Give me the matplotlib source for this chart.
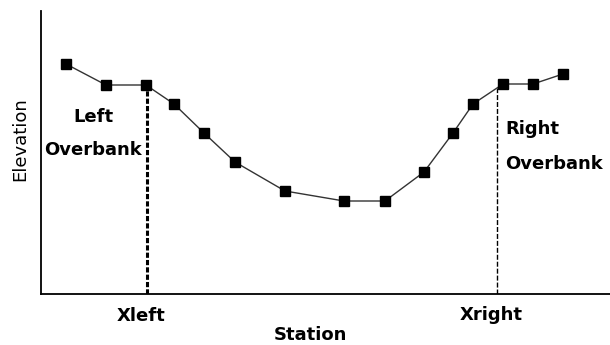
import numpy as np
import matplotlib
matplotlib.use("Agg")
import matplotlib.pyplot as plt

# cross-section survey points (station, elevation), arbitrary units
station = [2.5, 6.5, 10.5, 13.3, 16.3, 19.4, 24.4, 30.3, 34.4, 38.3, 41.2, 43.2, 46.2, 49.2, 52.2]
elevation = [23.0, 20.9, 20.9, 19.0, 16.1, 13.2, 10.3, 9.3, 9.3, 12.2, 16.1, 19.0, 21.0, 21.0, 22.0]

x_left = 10.6
x_right = 45.6

W, H = 610, 345
fig = plt.figure(figsize=(W / 100, H / 100), dpi=100)
ax = fig.add_axes([41 / W, (H - 294) / H, (W - 41) / W, (294 - 11) / H])

ax.plot(station, elevation, color="#333333", linewidth=1.0, zorder=2)
ax.plot(station, elevation, linestyle="none", marker="s", markersize=7.5,
        color="black", zorder=3)

# bank stations
yl = np.interp(x_left, station, elevation)
yr = np.interp(x_right, station, elevation)
ax.plot([x_left, x_left], [0, yl], color="black", linewidth=2.2,
        linestyle=(0, (1.7, 0.7)), zorder=1)
ax.plot([x_right, x_right], [0, yr], color="black", linewidth=1.0,
        linestyle=(0, (3.6, 1.4)), zorder=1)

ax.set_xlim(0, 56.9)
ax.set_ylim(0, 28.3)
ax.set_xticks([])
ax.set_yticks([])
for s in ["top", "right"]:
    ax.spines[s].set_visible(False)
for s in ["left", "bottom"]:
    ax.spines[s].set_linewidth(1.3)


def px(x, y):
    return x / W, 1 - y / H


bold = dict(fontsize=13, fontweight="bold", family="DejaVu Sans")
fig.text(*px(141, 316), "Xleft", ha="center", va="center", **bold)
fig.text(*px(491, 315), "Xright", ha="center", va="center", **bold)
fig.text(*px(310, 335), "Station", ha="center", va="center", **bold)
fig.text(*px(20, 139), "Elevation", ha="center", va="center", rotation=90,
         fontsize=13, family="DejaVu Sans")
fig.text(*px(93, 117), "Left", ha="center", va="center", **bold)
fig.text(*px(93, 150), "Overbank", ha="center", va="center", **bold)
fig.text(*px(505, 129), "Right", ha="left", va="center", **bold)
fig.text(*px(505, 164), "Overbank", ha="left", va="center", **bold)

fig.savefig("out.png", dpi=100)
